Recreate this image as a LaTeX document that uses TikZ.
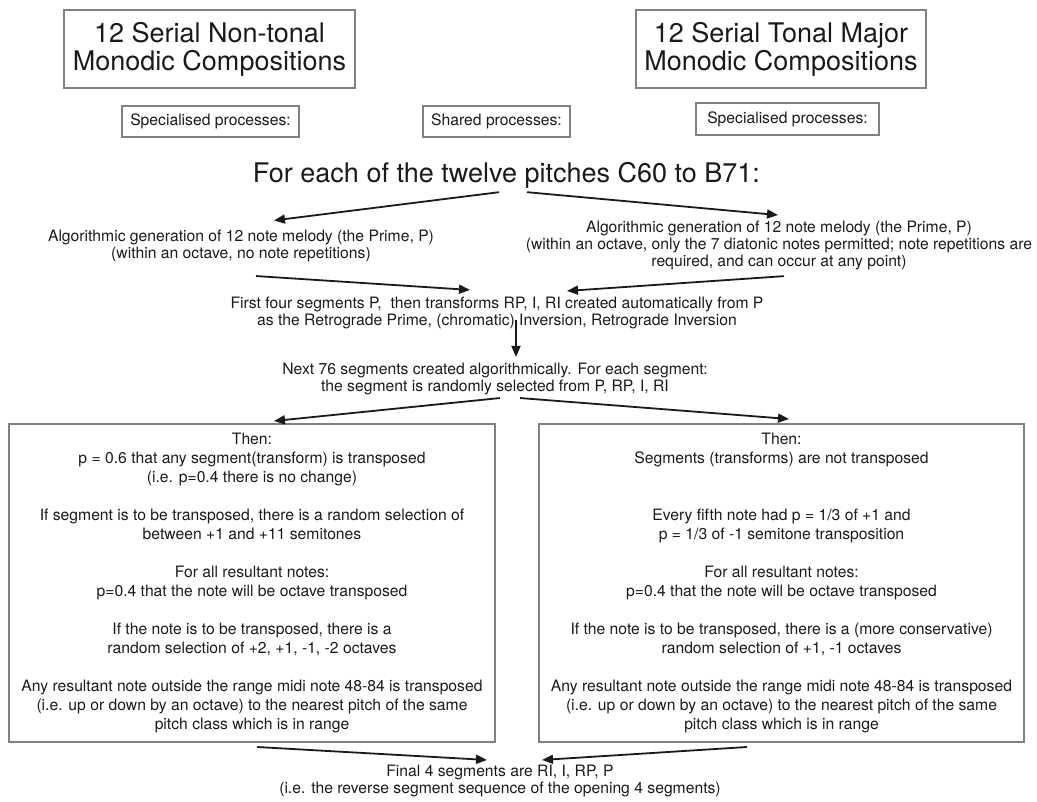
\documentclass[tikz,border=0pt]{standalone}
\usepackage{fontspec}
\setmainfont{TeX Gyre Heros}
\usetikzlibrary{arrows.meta}
\definecolor{ink}{HTML}{1A1A1A}
\definecolor{frame}{HTML}{808080}
\begin{document}
\begin{tikzpicture}[x=1pt,y=-1pt,
  every node/.style={text=ink, inner sep=0pt, outer sep=0pt},
  body/.style={font=\fontsize{15.7}{17}\selectfont, align=center},
  bigbox/.style={draw=frame, line width=2pt, font=\fontsize{15.7}{19}\selectfont, align=center, minimum width=486pt, minimum height=318pt},
  titlebox/.style={draw=frame, line width=2pt, font=\fontsize{27}{28}\selectfont, align=center, minimum width=291pt, minimum height=78pt},
  tagbox/.style={draw=frame, line width=1.6pt, font=\fontsize{15.7}{17}\selectfont, minimum height=31pt},
  arr/.style={draw=ink, line width=1.8pt, -{Triangle[length=11pt,width=9pt]}}
]
\useasboundingbox (0,0) rectangle (1037,802);

% titles and tags
\node[titlebox] (tL) at (209.5,49) {12 Serial Non-tonal\\Monodic Compositions};
\node[titlebox, minimum width=290pt] (tR) at (781,49) {12 Serial Tonal Major\\Monodic Compositions};
\node[tagbox, minimum width=177pt] (sL) at (210.5,121.5) {Specialised processes:};
\node[tagbox, minimum width=147pt] (sh) at (496.5,121.5) {Shared processes:};
\node[tagbox, minimum width=183pt, minimum height=32pt] (sR) at (787.5,119) {Specialised processes:};

% flow text
\node[font=\fontsize{27}{28}\selectfont, anchor=base] (fe) at (506.5,183) {For each of the twelve pitches C60 to B71:};
\node[body] (aL) at (241,246.4) {Algorithmic generation of 12 note melody (the Prime, P)\\(within an octave, no note repetitions)};
\node[body] (aR) at (779,245) {Algorithmic generation of 12 note melody (the Prime, P)\\(within an octave, only the 7 diatonic notes permitted; note repetitions are\\required, and can occur at any point)};
\node[body] (fi) at (497,313.4) {First four segments P,\ \ then transforms RP, I, RI created automatically from P\\as the Retrograde Prime, (chromatic) Inversion, Retrograde Inversion};
\node[body] (nx) at (495,379.4) {Next 76 segments created algorithmically. For each segment:\\the segment is randomly selected from P, RP, I, RI};

\node[bigbox] (bL) at (252,583) {Then:\\
p = 0.6 that any segment(transform) is transposed\\
(i.e. p=0.4 there is no change)\\[19pt]
If segment is to be transposed, there is a random selection of\\
between +1 and +11 semitones\\[19pt]
For all resultant notes:\\
p=0.4 that the note will be octave transposed\\[19pt]
If the note is to be transposed, there is a\\
random selection of +2, +1, -1, -2 octaves\\[19pt]
Any resultant note outside the range midi note 48-84 is transposed\\
(i.e. up or down by an octave) to the nearest pitch of the same\\
pitch class which is in range};

\node[bigbox, minimum width=485pt] (bR) at (781.5,583) {Then:\\
Segments (transforms) are not transposed\\[38pt]
Every fifth note had p = 1/3 of +1 and\\
p = 1/3 of -1 semitone transposition\\[19pt]
For all resultant notes:\\
p=0.4 that the note will be octave transposed\\[19pt]
If the note is to be transposed, there is a (more conservative)\\
random selection of +1, -1 octaves\\[19pt]
Any resultant note outside the range midi note 48-84 is transposed\\
(i.e. up or down by an octave) to the nearest pitch of the same\\
pitch class which is in range};

\node[body] (fn) at (500,781.4) {Final 4 segments are RI, I, RP, P\\(i.e. the reverse segment sequence of the opening 4 segments)};

% connectors
\draw[arr] ([xshift=-7.5pt,yshift=-3.3pt]fe.south) -- ([xshift=33pt,yshift=10pt]aL.north);
\draw[arr] ([xshift=20.5pt,yshift=-3.3pt]fe.south) -- ([xshift=-1pt,yshift=5.5pt]aR.north);
\draw[arr] ([xshift=15pt,yshift=-13.7pt]aL.south) -- ([xshift=-27pt,yshift=7.5pt]fi.north);
\draw[arr] ([xshift=5pt,yshift=-6.7pt]aR.south) -- ([xshift=70pt,yshift=6.5pt]fi.north);
\draw[arr] ([xshift=19pt,yshift=9.3pt]fi.south) -- ([xshift=21pt,yshift=6.5pt]nx.north);
\draw[arr] ([xshift=5pt,yshift=-2.7pt]nx.south) -- ([xshift=22pt,yshift=3pt]bL.north);
\draw[arr] ([xshift=25pt,yshift=-2.7pt]nx.south) -- ([xshift=7.5pt,yshift=5pt]bR.north);
\draw[arr] ([xshift=5pt,yshift=-5pt]bL.south) -- ([xshift=-13pt,yshift=5.5pt]fn.north);
\draw[arr] ([xshift=-34.5pt,yshift=-5pt]bR.south) -- ([xshift=42pt,yshift=5.5pt]fn.north);
\end{tikzpicture}
\end{document}
